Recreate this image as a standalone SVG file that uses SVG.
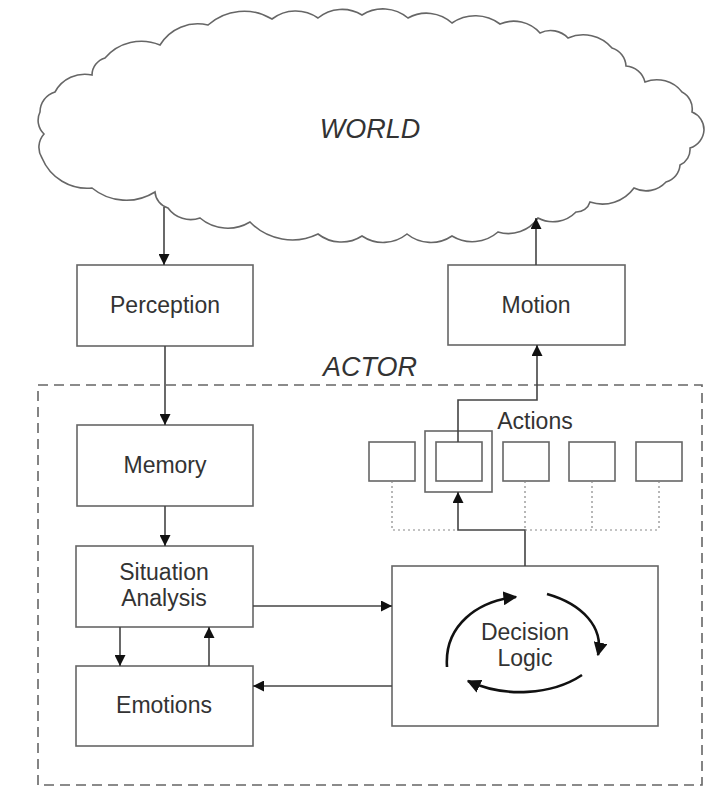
<svg xmlns="http://www.w3.org/2000/svg" width="710" height="788" viewBox="0 0 710 788">
<defs>
<marker id="ah" markerWidth="11" markerHeight="11" viewBox="0 0 10 10" refX="10" refY="5" orient="auto" markerUnits="userSpaceOnUse">
<path d="M0,0 L10,5 L0,10 z" fill="#111"/>
</marker>
<marker id="ah2" markerWidth="14" markerHeight="14" viewBox="0 0 10 10" refX="9" refY="5" orient="auto" markerUnits="userSpaceOnUse">
<path d="M0,0 L10,5 L0,10 z" fill="#111"/>
</marker>
<style>
.box{fill:#fff;stroke:#666;stroke-width:1.6}
.lbl{font-family:"Liberation Sans",Arial,sans-serif;font-size:23px;fill:#333;text-anchor:middle}
.ttl{font-family:"Liberation Sans",Arial,sans-serif;font-size:27px;font-style:italic;fill:#333;text-anchor:middle}
.con{fill:none;stroke:#444;stroke-width:1.6}
.dot{fill:none;stroke:#888;stroke-width:1.2;stroke-dasharray:2 3}
.cyc{fill:none;stroke:#111;stroke-width:2.6}
</style>
</defs>
<rect width="710" height="788" fill="#fff"/>
<g id="world">
<path class="box" d="M160,45 A44,44 0 0 1 208,25 A54,54 0 0 1 272,19 A39,39 0 0 1 318,18 A38,38 0 0 1 362,15 A39,39 0 0 1 408,18 A38,38 0 0 1 452,23 A41,41 0 0 1 500,24 A35,35 0 0 1 540,33 A24,24 0 0 1 568,38 A38,38 0 0 1 612,48 A20,20 0 0 1 626,66 A21,21 0 0 1 645,82 A32,32 0 0 1 682,92 A19,19 0 0 1 692,112 A19,19 0 0 1 704,130 A20,20 0 0 1 690,148 A17,17 0 0 1 680,165 A19,19 0 0 1 666,182 A27,27 0 0 1 634,188 A39,39 0 0 1 590,202 A14,14 0 0 1 576,212 A32,32 0 0 1 538,218 A36,36 0 0 1 498,232 A39,39 0 0 1 452,236 A38,38 0 0 1 407,234 A38,38 0 0 1 362,236 A38,38 0 0 1 318,234 A59,59 0 0 1 250,222 A43,43 0 0 1 200,218 A28,28 0 0 1 168,208 A18,18 0 0 1 155,192 A54,54 0 0 1 92,188 A49,49 0 0 1 42,158 A20,20 0 0 1 44,134 A19,19 0 0 1 40,112 A21,21 0 0 1 55,92 A34,34 0 0 1 92,75 A18,18 0 0 1 105,58 A48,48 0 0 1 160,45 Z"/>
<text class="ttl" x="370" y="138">WORLD</text>
</g>
<g id="actor">
<rect x="38" y="385" width="664" height="400" fill="none" stroke="#666" stroke-width="1.6" stroke-dasharray="10 6"/>
<text class="ttl" x="370" y="376">ACTOR</text>
</g>
<g id="perception">
<rect class="box" x="77" y="265" width="176" height="81"/>
<text class="lbl" x="165" y="313">Perception</text>
</g>
<g id="motion">
<rect class="box" x="448" y="265" width="177" height="80"/>
<text class="lbl" x="536" y="313">Motion</text>
</g>
<g id="memory">
<rect class="box" x="77" y="425" width="176" height="81"/>
<text class="lbl" x="165" y="473">Memory</text>
</g>
<g id="situation">
<rect class="box" x="76" y="546" width="177" height="81"/>
<text class="lbl" x="164" y="580">Situation</text>
<text class="lbl" x="164" y="606">Analysis</text>
</g>
<g id="emotions">
<rect class="box" x="76" y="666" width="177" height="80"/>
<text class="lbl" x="164" y="713">Emotions</text>
</g>
<g id="decision">
<rect class="box" x="392" y="566" width="266" height="160"/>
<text class="lbl" x="525" y="640">Decision</text>
<text class="lbl" x="525" y="666">Logic</text>
<path class="cyc" d="M447,667 C444,625 478,601 516,597" marker-end="url(#ah2)"/>
<path class="cyc" d="M547,594 C582,604 604,627 598,655" marker-end="url(#ah2)"/>
<path class="cyc" d="M582,675 C552,695 505,698 468,681" marker-end="url(#ah2)"/>
</g>
<g id="actions">
<text class="lbl" x="535" y="429">Actions</text>
<rect class="box" x="369" y="442" width="46" height="39"/>
<rect class="box" x="425" y="431" width="67" height="61"/>
<rect class="box" x="436" y="442" width="46" height="39"/>
<rect class="box" x="503" y="442" width="46" height="39"/>
<rect class="box" x="569" y="442" width="46" height="39"/>
<rect class="box" x="636" y="442" width="46" height="39"/>
</g>
<g id="connectors">
<path class="con" d="M164,207 V265" marker-end="url(#ah)"/>
<path class="con" d="M536,265 V218" marker-end="url(#ah)"/>
<path class="con" d="M165,346 V425" marker-end="url(#ah)"/>
<path class="con" d="M165,506 V546" marker-end="url(#ah)"/>
<path class="con" d="M120,627 V666" marker-end="url(#ah)"/>
<path class="con" d="M209,666 V627" marker-end="url(#ah)"/>
<path class="con" d="M253,606 H392" marker-end="url(#ah)"/>
<path class="con" d="M392,686 H253" marker-end="url(#ah)"/>
<path class="con" d="M525,566 V530 H458 V492" marker-end="url(#ah)"/>
<path class="con" d="M458,442 V400 H537 V345" marker-end="url(#ah)"/>
<path class="dot" d="M392,481 V530 H458 M525,530 H658 M525,481 V530 M592,481 V530 M659,481 V530"/>
</g>
</svg>
